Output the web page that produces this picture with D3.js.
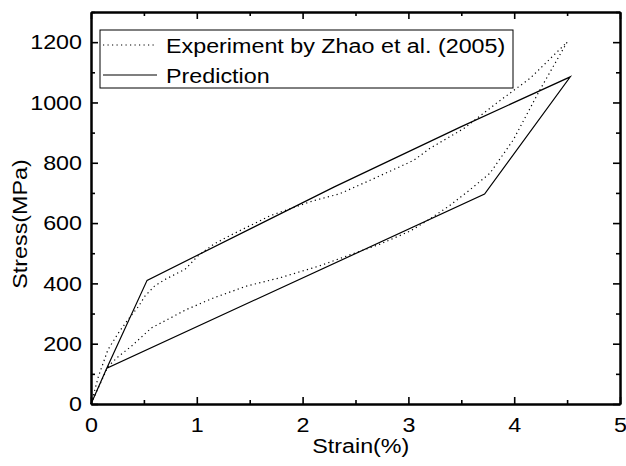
<!DOCTYPE html>
<html>
<head>
<meta charset="utf-8">
<script src="https://cdn.jsdelivr.net/npm/d3@7"></script>
<style>
  body { margin: 0; background: #fff; }
  text { font-family: "Liberation Sans", Arial, sans-serif; fill: #000; }
  .axis path, .axis line { stroke: #000; }
</style>
</head>
<body>
<svg id="chart"></svg>
<script>
// experiment (dotted) - loading then unloading
var expStrain = [0, 0.07, 0.16, 0.26, 0.35, 0.45, 0.51, 0.60, 0.70, 0.89, 1.01, 1.16, 1.31, 1.69, 2.10, 2.35, 2.67, 3.05, 3.20, 3.52, 3.83, 4.15, 4.50,
                 4.24, 3.99, 3.77, 3.58, 3.39, 3.20, 3.02, 2.73, 2.38, 2.16, 1.79, 1.47, 1.16, 0.90, 0.57, 0.38, 0.26, 0.16, 0]
var expStress = [0, 91, 180, 236, 280, 324, 358, 391, 413, 447, 491, 530, 558, 624, 674, 697, 747, 808, 847, 913, 997, 1080, 1200,
                 1040, 875, 765, 710, 658, 613, 574, 530, 486, 458, 419, 391, 352, 313, 252, 191, 158, 124, 0]

// prediction (solid)
var predStrain = [0, 0.15, 0.53, 2.3, 3.5, 4.53, 3.72, 0.15, 0]
var predStress = [0, 119, 410, 720, 920, 1085, 696, 119, 0]

var xTicks = [0, 1, 2, 3, 4, 5]
var xMinor = [0.5, 1.5, 2.5, 3.5, 4.5]
var yTicks = [0, 200, 400, 600, 800, 1000, 1200]
var yMinor = [100, 300, 500, 700, 900, 1100, 1300]

var legendNames = ["Experiment by Zhao et al. (2005)", "Prediction"]

var screen = {width: 626, height: 466}
var margins = {left: 91, right: 6, top: 12, bottom: 62}
var graph = {
    width: screen.width - margins.left - margins.right,
    height: screen.height - margins.top - margins.bottom
}
var fontSize = "21px"
var stretch = 1.11   // the original font is drawn wider than Arial

var svg = d3.select("#chart")
    .attr("width", screen.width)
    .attr("height", screen.height)

var xScale = d3.scaleLinear().domain([0, 5]).range([0, graph.width])
var yScale = d3.scaleLinear().domain([0, 1300]).range([graph.height, 0])

var target = svg.append("g")
    .attr("transform", "translate(" + margins.left + "," + margins.top + ")")

var line = d3.line()
    .x(function(d) { return xScale(d[0]) })
    .y(function(d) { return yScale(d[1]) })

var expData = expStrain.map(function(s, i) { return [s, expStress[i]] })
var predData = predStrain.map(function(s, i) { return [s, predStress[i]] })

target.append("path")
    .datum(expData)
    .attr("d", line)
    .attr("fill", "none")
    .attr("stroke", "#000")
    .attr("stroke-width", 1.2)
    .attr("stroke-dasharray", "1.2,3.3")

target.append("path")
    .datum(predData)
    .attr("d", line)
    .attr("fill", "none")
    .attr("stroke", "#000")
    .attr("stroke-width", 1.2)

// axes: major + minor ticks, inward on all four sides
var drawAxis = function(axis, transform) {
    target.append("g")
        .attr("class", "axis")
        .attr("transform", transform)
        .call(axis)
        .call(function(g) {
            g.selectAll(".tick line").attr("stroke-width", 1.6)
            g.select(".domain").attr("stroke-width", 2)
        })
}

drawAxis(d3.axisBottom(xScale).tickValues(xTicks).tickSizeInner(-7).tickSizeOuter(0).tickPadding(13).tickFormat(d3.format("d")),
    "translate(0," + graph.height + ")")
drawAxis(d3.axisBottom(xScale).tickValues(xMinor).tickSizeInner(-4).tickSizeOuter(0).tickFormat(""),
    "translate(0," + graph.height + ")")
drawAxis(d3.axisTop(xScale).tickValues(xTicks).tickSizeInner(-7).tickSizeOuter(0).tickFormat(""),
    "translate(0,0)")
drawAxis(d3.axisTop(xScale).tickValues(xMinor).tickSizeInner(-4).tickSizeOuter(0).tickFormat(""),
    "translate(0,0)")
drawAxis(d3.axisLeft(yScale).tickValues(yTicks).tickSizeInner(-7).tickSizeOuter(0).tickPadding(8.1).tickFormat(d3.format("d")),
    "translate(0,0)")
drawAxis(d3.axisLeft(yScale).tickValues(yMinor).tickSizeInner(-4).tickSizeOuter(0).tickFormat(""),
    "translate(0,0)")
drawAxis(d3.axisRight(yScale).tickValues(yTicks).tickSizeInner(-7).tickSizeOuter(0).tickFormat(""),
    "translate(" + graph.width + ",0)")
drawAxis(d3.axisRight(yScale).tickValues(yMinor).tickSizeInner(-4).tickSizeOuter(0).tickFormat(""),
    "translate(" + graph.width + ",0)")

target.selectAll(".axis text")
    .style("font-size", fontSize)
    .style("font-family", "'Liberation Sans', Arial, sans-serif")
    .attr("transform", "scale(" + stretch + ",1)")

// axis titles
svg.append("text")
    .attr("transform", "translate(" + (margins.left + xScale(2.55)) + ",453) scale(" + stretch + ",1)")
    .attr("text-anchor", "middle")
    .style("font-size", fontSize)
    .text("Strain(%)")

svg.append("text")
    .attr("transform", "translate(27,224) rotate(-90) scale(" + stretch + ",1)")
    .attr("text-anchor", "middle")
    .style("font-size", fontSize)
    .text("Stress(MPa)")

// legend
var legend = svg.append("g").attr("transform", "translate(100,30)")
legend.append("rect")
    .attr("width", 413)
    .attr("height", 58)
    .attr("fill", "#fff")
    .attr("stroke", "#000")
    .attr("stroke-width", 1)

var rows = legend.selectAll(".row")
    .data(legendNames)
    .enter()
    .append("g")
    .attr("transform", function(d, i) { return "translate(0," + (15 + i * 30) + ")" })

rows.append("line")
    .attr("x1", 3).attr("x2", 57)
    .attr("y1", 0).attr("y2", 0)
    .attr("stroke", "#000")
    .attr("stroke-width", 1.2)
    .attr("stroke-dasharray", function(d, i) { return i == 0 ? "1.2,3.3" : null })

rows.append("text")
    .attr("transform", "translate(66,7.5) scale(" + stretch + ",1)")
    .style("font-size", fontSize)
    .text(function(d) { return d })
</script>
</body>
</html>
